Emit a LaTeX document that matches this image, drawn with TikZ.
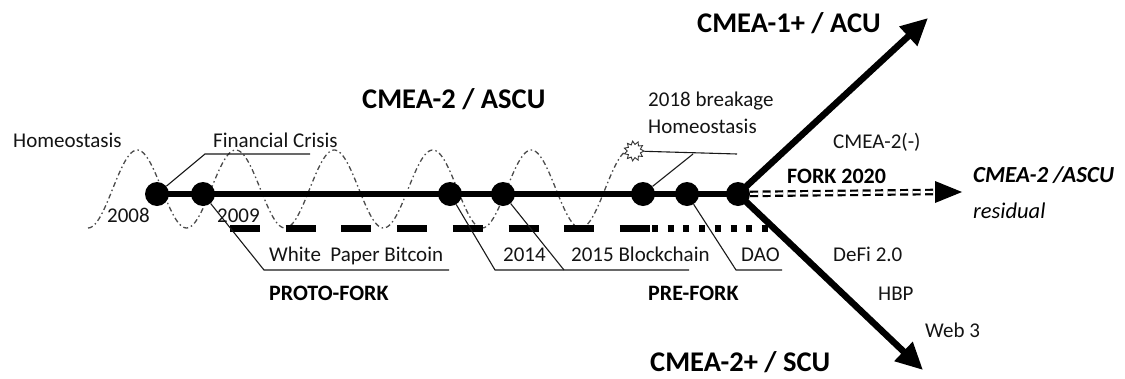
\documentclass[tikz,border=0pt]{standalone}
\usepackage{fontspec}
\setmainfont{Carlito}
\usetikzlibrary{arrows.meta,shapes.geometric}
\begin{document}
\begin{tikzpicture}[x=1pt,y=-1pt,
  lbl/.style={inner sep=0pt, anchor=base west, text=black!92, font=\fontsize{21}{24}\selectfont},
  sublbl/.style={inner sep=0pt, anchor=base west, text=black, font=\fontsize{22}{26}\selectfont\bfseries},
  ttl/.style={inner sep=0pt, anchor=base west, text=black, font=\fontsize{28.5}{32}\selectfont\bfseries},
  itl/.style={inner sep=0pt, anchor=base west, text=black, font=\fontsize{22.5}{26}\selectfont\itshape},
  dotnode/.style={circle, fill=black, minimum size=24pt, inner sep=0pt},
  leader/.style={line width=1.1pt, black!90},
  wave/.style={line width=1.3pt, black!70, dash pattern=on 5pt off 3pt on 1.5pt off 3pt},
  mainline/.style={line width=6.5pt},
  branch/.style={line width=6.5pt, -{Triangle[length=27pt,width=25pt]}},
  dbl/.style={line width=2.2pt, double=white, double distance=2.2pt, dash pattern=on 8pt off 4.5pt},
]
\useasboundingbox (0,0) rectangle (1125,378);

% homeostasis wave
\draw[wave] plot[domain=88:624, samples=300, variable=\t] (\t, {189+39*cos(3.6548*(\t-88))});
\node[star, star points=11, star point ratio=1.5, draw, line width=0.9pt, black!80, minimum size=20pt, inner sep=0pt, rotate=8] (brk) at (634,151) {};

% dots on main line
\node[dotnode] (d2008) at (157,194) {};
\node[dotnode] (d2009) at (203,194) {};
\node[dotnode] (d2014) at (450,194) {};
\node[dotnode] (d2015) at (503,194) {};
\node[dotnode] (d2018) at (643,194) {};
\node[dotnode] (dDAO) at (687,194) {};
\node[dotnode] (fork) at (738,194) {};
\draw[mainline] (d2008.center) -- (fork.center);

% thick dashed / dotted line below
\coordinate (dsA) at (230,228);
\coordinate (dsB) at (650,228);
\coordinate (dtA) at (652,228);
\coordinate (dtB) at (768,228);
\draw[line width=7pt, dash pattern=on 30pt off 25.7pt] (dsA) -- (dsB);
\draw[line width=7pt, dash pattern=on 6pt off 9.7pt] (dtA) -- (dtB);

% branches
\coordinate (acu) at (928,18);
\coordinate (scu) at (923,370);
\coordinate (rbase) at (935,192);
\coordinate (rtip) at (962,192);
\draw[branch] (fork.center) -- (acu);
\draw[branch] (fork.center) -- (scu);
\draw[dbl] (fork) -- (rbase);
\fill (rbase) ++(0,-11) -- (rtip) -- (935,203) -- cycle;

% leaders
\coordinate (fcA) at (205,154); \coordinate (fcB) at (310,154);
\draw[leader] (d2008) -- (fcA) -- (fcB);
\coordinate (wpA) at (264,270); \coordinate (wpB) at (449,270);
\draw[leader] (d2009) -- (wpA) -- (wpB);
\coordinate (bcA) at (495,270); \coordinate (bcB) at (564,270); \coordinate (bcC) at (689,270);
\draw[leader] (d2014) -- (bcA) -- (bcC);
\draw[leader] (d2015) -- (bcB);
\coordinate (daoA) at (736,270); \coordinate (daoB) at (782,270);
\draw[leader] (dDAO) -- (daoA) -- (daoB);
\coordinate (hA) at (693,154); \coordinate (hB) at (737,154);
\draw[leader] (brk) -- (hB);
\draw[leader] (d2018) -- (hA);

% labels
\node[lbl] (homeo) at (13,147) {Homeostasis};
\node[lbl] (fincrisis) at (213,147) {Financial Crisis};
\node[lbl] (y2008) at (107,222) {2008};
\node[lbl] (y2009) at (217,222) {2009};
\node[ttl] (cmea2) at (362,108) {CMEA-2 / ASCU};
\node[lbl] (brk18) at (648,106) {2018 breakage};
\node[lbl] (homeo2) at (648,133) {Homeostasis};
\node[lbl] (cmeaminus) at (833,148) {CMEA-2(-)};
\node[ttl] (cmea1) at (697,32) {CMEA-1+ / ACU};
\node[sublbl] (fork2020) at (787,183) {FORK 2020};
\node[itl, font=\fontsize{23}{26}\selectfont\bfseries\itshape] (resA) at (973,182) {CMEA-2 /ASCU};
\node[itl] (resB) at (973,218) {residual};
\node[lbl] (wp) at (269,261) {White\ \ Paper Bitcoin};
\node[lbl] (t2014) at (503,261) {2014};
\node[lbl] (t2015) at (571,261) {2015 Blockchain};
\node[lbl] (tdao) at (741,261) {DAO};
\node[lbl] (defi) at (833,261) {DeFi 2.0};
\node[lbl] (hbp) at (878,300) {HBP};
\node[lbl] (web3) at (925,337) {Web 3};
\node[sublbl] (proto) at (269,300) {PROTO-FORK};
\node[sublbl] (prefork) at (648,300) {PRE-FORK};
\node[ttl] (cmea2p) at (650,371) {CMEA-2+ / SCU};
\end{tikzpicture}
\end{document}
